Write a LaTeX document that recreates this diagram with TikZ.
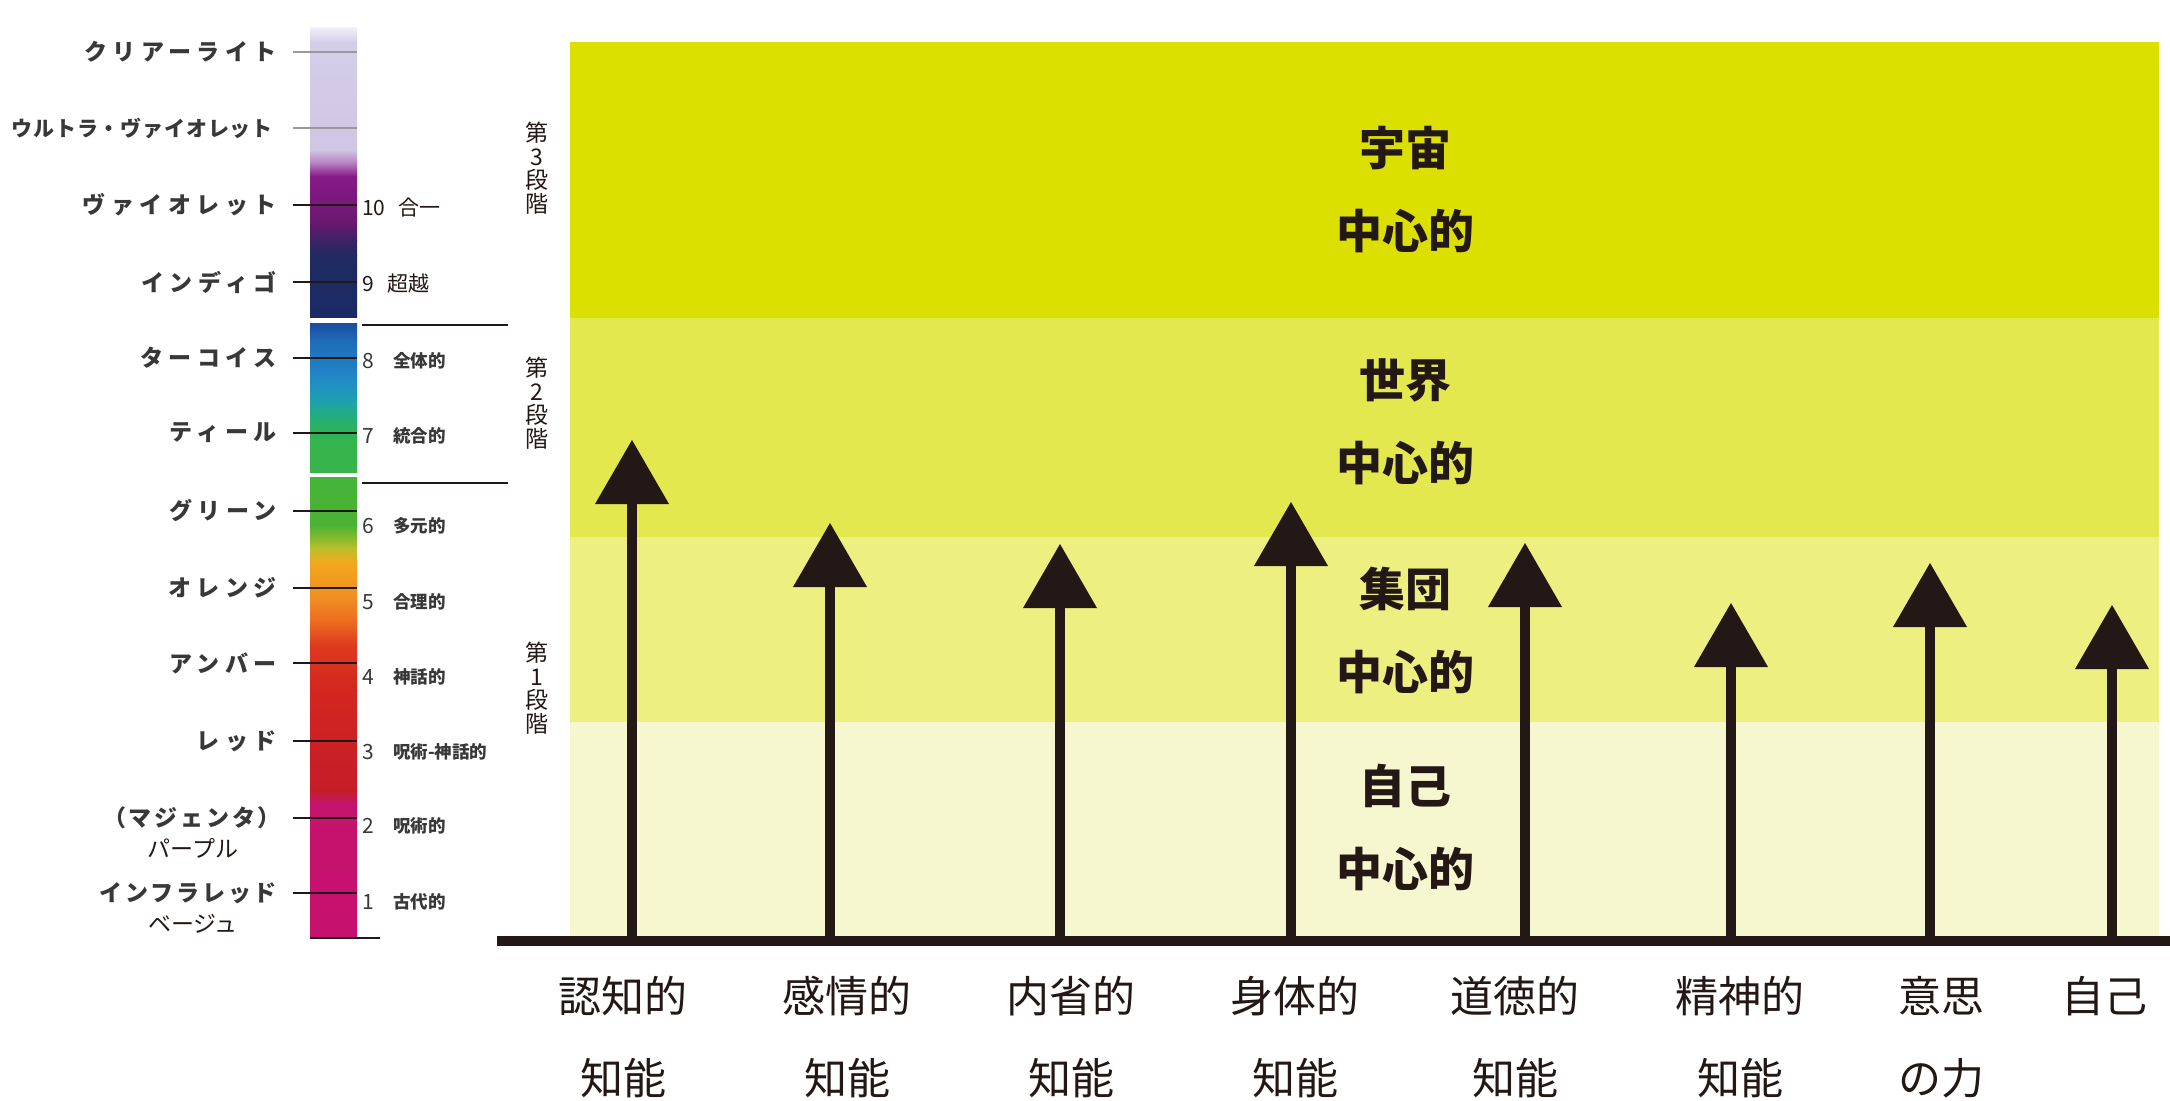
\documentclass[tikz,border=0pt]{standalone}
\usepackage{fontspec}
\newfontfamily\jp{Noto Sans CJK JP}
\usetikzlibrary{calc}
\definecolor{ink}{HTML}{231815}
\definecolor{bandA}{HTML}{DCE000}
\definecolor{bandB}{HTML}{E3E84F}
\definecolor{bandC}{HTML}{EDEF80}
\definecolor{bandD}{HTML}{F6F7CF}
\definecolor{txtgray}{HTML}{383838}
% spectrum colours
\definecolor{lavtop}{HTML}{F2F0F8}
\definecolor{lav}{HTML}{D4CEE8}
\definecolor{lavb}{HTML}{CFC6E3}
\definecolor{vmid}{HTML}{B57FC0}
\definecolor{purA}{HTML}{861A88}
\definecolor{purB}{HTML}{6E1872}
\definecolor{indmid}{HTML}{3E2266}
\definecolor{navyA}{HTML}{1F2B62}
\definecolor{navyB}{HTML}{1B2A66}
\definecolor{blA}{HTML}{1A4C9E}
\definecolor{blB}{HTML}{1E6BB8}
\definecolor{blC}{HTML}{2286C8}
\definecolor{tealA}{HTML}{1FA0B0}
\definecolor{tealB}{HTML}{24B070}
\definecolor{grA}{HTML}{34B44C}
\definecolor{grB}{HTML}{38B54A}
\definecolor{grC}{HTML}{45B43A}
\definecolor{grD}{HTML}{4CB234}
\definecolor{yeA}{HTML}{B8C02A}
\definecolor{orA}{HTML}{F2A81E}
\definecolor{orB}{HTML}{F08C22}
\definecolor{orC}{HTML}{EC6A1E}
\definecolor{rdA}{HTML}{DE3A1E}
\definecolor{rdB}{HTML}{D2261F}
\definecolor{rdC}{HTML}{C51D28}
\definecolor{mgA}{HTML}{C5146C}
\definecolor{mgB}{HTML}{C6116F}
\tikzset{
  bandlbl/.style={font={\jp\bfseries\fontsize{46}{83}\selectfont}, align=center, text=ink, inner sep=0pt},
  stagelbl/.style={font={\jp\fontsize{23}{23.5}\selectfont}, align=center, text=ink, inner sep=0pt},
  axislbl/.style={font={\jp\fontsize{43}{82}\selectfont}, align=center, text=ink, inner sep=0pt},
  colorlbl/.style={font={\jp\bfseries\fontsize{23}{23}\selectfont\addfontfeature{LetterSpace=24}}, anchor=east, text=txtgray, inner sep=0pt},
  plainlbl/.style={font={\jp\fontsize{23}{23}\selectfont}, text=ink, inner sep=0pt},
  numlbl/.style={font={\jp\fontsize{21}{21}\selectfont}, anchor=west, text=ink, inner sep=0pt},
  smalllbl/.style={font={\jp\bfseries\fontsize{17.5}{17.5}\selectfont}, anchor=west, text=txtgray, inner sep=0pt},
  tick/.style={draw=ink, line width=2pt},
  faint/.style={draw=gray!80, line width=1.5pt},
  shaft/.style={draw=ink, line width=10.5pt},
}
\begin{document}
\begin{tikzpicture}[x=1pt,y=-1pt]
\useasboundingbox (0,0) rectangle (2170,1100);
\fill[white] (0,0) rectangle (2170,1100);

% ---------------- right chart bands
\fill[bandA] (570,42) rectangle (2159,318);
\fill[bandB] (570,318) rectangle (2159,537);
\fill[bandC] (570,537) rectangle (2159,722);
\fill[bandD] (570,722) rectangle (2159,941);

\node[bandlbl] (cosmo) at (1405,190) {宇宙\\中心的};
\node[bandlbl] (world) at (1405,422) {世界\\中心的};
\node[bandlbl] (group) at (1405,630) {集団\\中心的};
\node[bandlbl] (self)  at (1405,827) {自己\\中心的};

\node[stagelbl] (st3) at (537,168) {第\\3\\段\\階};
\node[stagelbl] (st2) at (537,403) {第\\2\\段\\階};
\node[stagelbl] (st1) at (537,688) {第\\1\\段\\階};

% ---------------- arrows
\foreach \i/\x/\ty in {1/632/440, 2/830/523, 3/1060/544, 4/1291/502, 5/1525/543, 6/1731/603, 7/1930/563, 8/2112/605} {
  \coordinate (b\i) at (\x,941);
  \coordinate (t\i) at (\x,\ty);
  \draw[shaft] (b\i) -- ($(t\i)+(0,60)$);
  \fill[ink] (t\i) -- ++(37,64) -- ++(-74,0) -- cycle;
}
\coordinate (ax0) at (497,941);
\coordinate (ax1) at (2170,941);
\draw[ink, line width=10pt] (ax0) -- (ax1);

% ---------------- axis labels
\node[axislbl] (l1) at (623,1037) {認知的\\知能};
\node[axislbl] (l2) at (847,1037) {感情的\\知能};
\node[axislbl] (l3) at (1071,1037) {内省的\\知能};
\node[axislbl] (l4) at (1295,1037) {身体的\\知能};
\node[axislbl] (l5) at (1515,1037) {道徳的\\知能};
\node[axislbl] (l6) at (1740,1037) {精神的\\知能};
\node[axislbl] (l7) at (1941,1037) {意思\\の力};
\node[axislbl] (l8) at (2104,996) {自己};

% ---------------- spectrum bar
\foreach \ya/\yb/\ca/\cb in {27/42/lavtop/lav, 42/150/lav/lavb, 150/163/lavb/vmid, 163/176/vmid/purA, 176/220/purA/purB, 220/240/purB/indmid, 240/255/indmid/navyA, 255/317/navyA/navyB,
  323/340/blA/blB, 340/375/blB/blC, 375/400/blC/tealA, 400/420/tealA/tealB, 420/440/tealB/grA, 440/472/grA/grB,
  477/525/grC/grD, 525/548/grD/yeA, 548/562/yeA/orA, 562/600/orA/orB, 600/622/orB/orC, 622/645/orC/rdA, 645/690/rdA/rdB, 690/790/rdB/rdC, 790/803/rdC/mgA, 803/937/mgA/mgB} {
  \shade[top color=\ca, bottom color=\cb] (310,\ya) rectangle (357,\yb+0.6);
}
\draw[ink, line width=2.5pt] (310,938) -- (380,938);

% ticks
\foreach \y in {52,128} { \draw[faint] (293,\y) -- (357,\y); }
\foreach \y in {205,282,358,433,511,588,663,741,818,893} { \draw[tick] (293,\y) -- (357,\y); }

% colour names
\node[colorlbl] (c1) at (277,52) {クリアーライト};
\node[colorlbl, font={\jp\bfseries\fontsize{21}{21}\selectfont\addfontfeature{LetterSpace=4}}] (c2) at (273,128) {ウルトラ・ヴァイオレット};
\node[colorlbl] (c3) at (277,205) {ヴァイオレット};
\node[colorlbl] (c4) at (277,282) {インディゴ};
\node[colorlbl] (c5) at (277,358) {ターコイス};
\node[colorlbl] (c6) at (277,433) {ティール};
\node[colorlbl] (c7) at (277,511) {グリーン};
\node[colorlbl] (c8) at (277,588) {オレンジ};
\node[colorlbl] (c9) at (277,663) {アンバー};
\node[colorlbl] (c10) at (277,741) {レッド};
\node[colorlbl, font={\jp\bfseries\fontsize{23}{23}\selectfont\addfontfeature{LetterSpace=12}}] (c11) at (281,818) {（マジェンタ）};
\node[plainlbl] (c12) at (193,848) {パープル};
\node[colorlbl, font={\jp\bfseries\fontsize{23}{23}\selectfont\addfontfeature{LetterSpace=12}}] (c13) at (277,893) {インフラレッド};
\node[plainlbl] (c14) at (193,924) {ベージュ};

% level numbers and names
\node[numlbl] (n10) at (362,208) {10};
\node[numlbl] (k10) at (398,208) {合一};
\node[numlbl] (n9) at (362,284) {9};
\node[numlbl] (k9) at (387,284) {超越};
\foreach \n/\y/\t in {8/361/全体的, 7/436/統合的, 6/526/多元的, 5/602/合理的, 4/677/神話的, 3/752/呪術-神話的, 2/826/呪術的, 1/902/古代的} {
  \node[numlbl, font={\jp\fontsize{21}{21}\selectfont}, text=txtgray] (n\n) at (362,\y) {\n};
  \node[smalllbl] (k\n) at (393,\y) {\t};
}

% separators
\coordinate (sa0) at (362,325); \coordinate (sa1) at (508,325);
\coordinate (sb0) at (362,483); \coordinate (sb1) at (508,483);
\draw[ink, line width=2.5pt] (sa0) -- (sa1);
\draw[ink, line width=2.5pt] (sb0) -- (sb1);
\end{tikzpicture}
\end{document}
